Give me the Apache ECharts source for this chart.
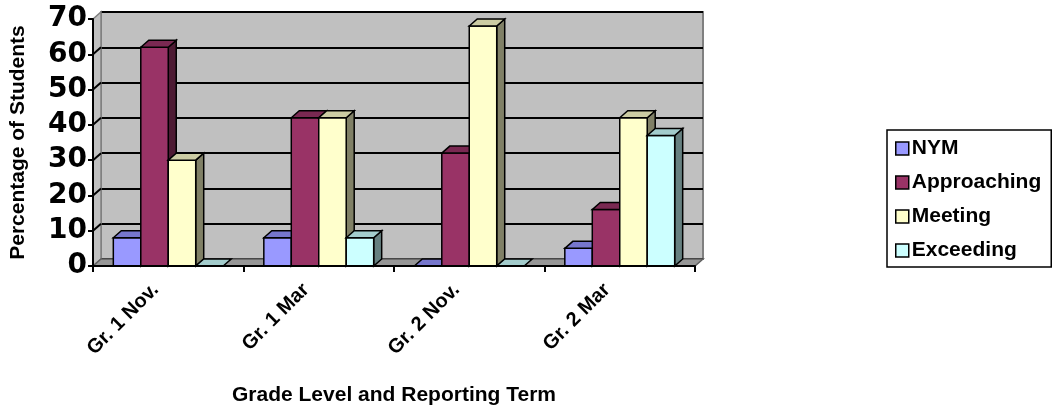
<!DOCTYPE html>
<html>
<head>
<meta charset="utf-8">
<script src="https://cdn.jsdelivr.net/npm/echarts@6/dist/echarts.min.js"></script>
<style>
  html, body { margin: 0; padding: 0; background: #ffffff; }
  #chart { width: 1059px; height: 406px; }
</style>
</head>
<body>
<div id="chart"></div>
<script>
// Reporting terms along the category axis
const categories = ['Gr. 1 Nov.', 'Gr. 1 Mar', 'Gr. 2 Nov.', 'Gr. 2 Mar'];

// Percentage of students at each proficiency level
const nym         = [8, 8, 0, 5];
const approaching = [62, 42, 32, 16];
const meeting     = [30, 42, 68, 42];
const exceeding   = [0, 8, 0, 37];

const seriesNames = ['NYM', 'Approaching', 'Meeting', 'Exceeding'];
const seriesValues = [nym, approaching, meeting, exceeding];

// Value axis range and tick step
const yMin = 0, yMax = 70, yStep = 10;

// Face colours for the 3-D columns: front, top, right side
const frontColors = ['#9999FF', '#993366', '#FFFFCC', '#CCFFFF'];
const topColors   = ['#7676CC', '#7A2952', '#CCCCA3', '#A3CCCC'];
const sideColors  = ['#4D4D80', '#4D1A33', '#808066', '#668080'];

// Depth of the 3-D box (pixels to the right and upward)
const DX = 8, DY = 7;
// Share of each category band covered by its group of columns
const GROUP_FRAC = 0.73;

const FONT = '"Liberation Sans", Arial, sans-serif';
const TICK_FONT = '"DejaVu Sans", "Liberation Sans", Arial, sans-serif';
const OUTLINE = { stroke: '#000000', lineWidth: 1.5 };

const grid = { left: 93, right: 364, top: 19, bottom: 140 };

// Walls and floor of the 3-D plot area, derived from the front grid rectangle
function renderFrame(params, api) {
  const cs = params.coordSys;
  const x0 = cs.x, x1 = cs.x + cs.width;
  const yTop = cs.y, yBot = cs.y + cs.height;
  const children = [];
  // left side wall
  children.push({
    type: 'polygon',
    shape: { points: [[x0, yBot], [x0, yTop], [x0 + DX, yTop - DY], [x0 + DX, yBot - DY]] },
    style: { fill: '#C0C0C0', stroke: '#808080', lineWidth: 1.5 }
  });
  // slanted gridlines on the side wall
  for (let v = yMin + yStep; v < yMax; v += yStep) {
    const p = api.coord([0, v]);
    children.push({
      type: 'line',
      shape: { x1: x0, y1: p[1], x2: x0 + DX, y2: p[1] - DY },
      style: { stroke: '#000000', lineWidth: 2 }
    });
  }
  // floor
  children.push({
    type: 'polygon',
    shape: { points: [[x0, yBot], [x1, yBot], [x1 + DX, yBot - DY], [x0 + DX, yBot - DY]] },
    style: { fill: '#969696', stroke: '#606060', lineWidth: 1.5 }
  });
  return { type: 'group', children: children };
}

// One 3-D column per data item
function makeColumnRenderer(s) {
  return function (params, api) {
    const ci = api.value(0);
    const v = api.value(1);
    const base = api.coord([ci, 0]);
    const tip = api.coord([ci, v]);
    const band = api.size([1, 0])[0];
    const bw = band * GROUP_FRAC / seriesNames.length;
    const xa = base[0] - bw * seriesNames.length / 2 + s * bw;
    const xb = xa + bw;
    const yb = base[1], yt = tip[1];
    const children = [];
    if (yb - yt > 0.5) {
      children.push({
        type: 'polygon',
        shape: { points: [[xb, yt], [xb + DX, yt - DY], [xb + DX, yb - DY], [xb, yb]] },
        style: Object.assign({ fill: sideColors[s] }, OUTLINE)
      });
      children.push({
        type: 'rect',
        shape: { x: xa, y: yt, width: bw, height: yb - yt },
        style: Object.assign({ fill: frontColors[s] }, OUTLINE)
      });
    }
    children.push({
      type: 'polygon',
      shape: { points: [[xa, yt], [xa + DX, yt - DY], [xb + DX, yt - DY], [xb, yt]] },
      style: Object.assign({ fill: topColors[s] }, OUTLINE)
    });
    return { type: 'group', children: children };
  };
}

const columnSeries = seriesNames.map(function (name, s) {
  return {
    name: name,
    type: 'custom',
    xAxisIndex: 0,
    yAxisIndex: 0,
    itemStyle: { color: frontColors[s] },
    renderItem: makeColumnRenderer(s),
    encode: { x: 0, y: 1 },
    data: seriesValues[s].map(function (v, i) { return [i, v]; }),
    z: 3
  };
});

const option = {
  animation: false,
  backgroundColor: '#ffffff',
  grid: [
    // front plane: axes, labels and columns
    {
      left: grid.left, right: grid.right, top: grid.top, bottom: grid.bottom,
      containLabel: false, outerBoundsMode: 'none'
    },
    // back wall, pushed back by the box depth
    {
      left: grid.left + DX, right: grid.right - DX, top: grid.top - DY, bottom: grid.bottom + DY,
      containLabel: false, outerBoundsMode: 'none',
      show: true, backgroundColor: '#C0C0C0', borderColor: '#808080', borderWidth: 2
    }
  ],
  xAxis: [
    {
      type: 'category',
      gridIndex: 0,
      data: categories,
      boundaryGap: true,
      axisLine: { lineStyle: { color: '#000000', width: 2 } },
      axisTick: { show: true, length: 6, lineStyle: { color: '#000000', width: 2 } },
      axisLabel: {
        rotate: 45,
        margin: 8,
        padding: [0, 18, 0, 0],
        color: '#000000',
        fontFamily: FONT,
        fontWeight: 'bold',
        fontSize: 20
      },
      name: 'Grade Level and Reporting Term',
      nameLocation: 'middle',
      nameGap: 119,
      nameTextStyle: { color: '#000000', fontFamily: FONT, fontWeight: 'bold', fontSize: 21 },
      z: 5
    },
    {
      type: 'category',
      gridIndex: 1,
      data: categories,
      show: false
    }
  ],
  yAxis: [
    {
      type: 'value',
      gridIndex: 0,
      min: yMin, max: yMax, interval: yStep,
      axisLine: { show: true, lineStyle: { color: '#000000', width: 2 } },
      axisTick: { show: true, length: 5, lineStyle: { color: '#000000', width: 2 } },
      splitLine: { show: false },
      axisLabel: {
        margin: 6,
        color: '#000000',
        fontFamily: TICK_FONT,
        fontWeight: 'bold',
        fontSize: 28
      },
      name: 'Percentage of Students',
      nameLocation: 'middle',
      nameRotate: 90,
      nameGap: 64,
      nameTextStyle: { color: '#000000', fontFamily: FONT, fontWeight: 'bold', fontSize: 21 },
      z: 5
    },
    {
      type: 'value',
      gridIndex: 1,
      min: yMin, max: yMax, interval: yStep,
      axisLine: { show: false },
      axisTick: { show: false },
      axisLabel: { show: false },
      splitLine: { show: true, lineStyle: { color: '#000000', width: 2 } }
    }
  ],
  legend: {
    orient: 'vertical',
    left: 887,
    top: 130,
    data: seriesNames,
    icon: 'rect',
    itemWidth: 13,
    itemHeight: 13,
    itemGap: 13,
    padding: [8, 10, 6, 8],
    borderColor: '#000000',
    borderWidth: 1.5,
    itemStyle: { borderColor: '#000000', borderWidth: 1.5 },
    textStyle: { color: '#000000', fontFamily: FONT, fontWeight: 'bold', fontSize: 21, padding: [0, 0, 0, -2] },
    selectedMode: false
  },
  series: [
    {
      name: 'frame',
      type: 'custom',
      xAxisIndex: 0,
      yAxisIndex: 0,
      renderItem: renderFrame,
      data: [[0, 0]],
      silent: true,
      z: 1
    }
  ].concat(columnSeries)
};

const chart = echarts.init(document.getElementById('chart'), null, { renderer: 'canvas' });
chart.setOption(option);
</script>
</body>
</html>
